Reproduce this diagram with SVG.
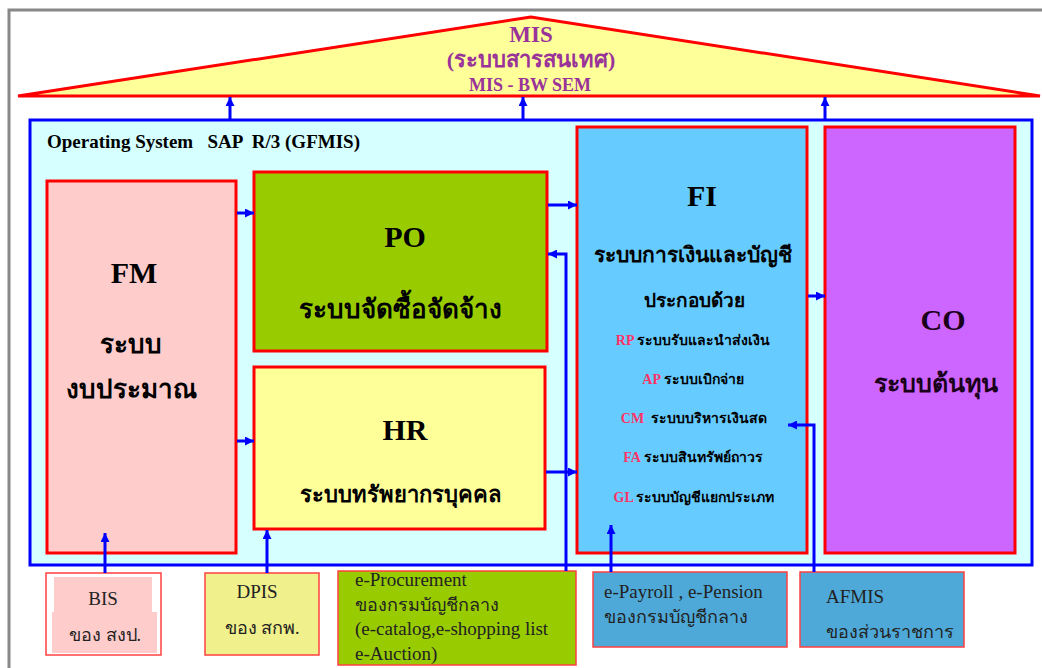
<svg xmlns="http://www.w3.org/2000/svg" width="1042" height="668" viewBox="0 0 1042 668">
<defs>
<marker id="ah" viewBox="0 0 10 10" refX="10" refY="5" markerWidth="10" markerHeight="9" markerUnits="userSpaceOnUse" orient="auto">
<path d="M0,0 L10,5 L0,10 Z" fill="#0000ff"/>
</marker>
<style>
.t{font-family:"Liberation Serif","Times New Roman",serif;}
.b{font-weight:bold;}
.mid{text-anchor:middle;}
.box{stroke:#ff0000;stroke-width:3;}
.sbox{stroke:#ff4040;stroke-width:1.5;}
.con{fill:none;stroke:#0000ff;stroke-width:3;marker-end:url(#ah);}
.code{fill:#ff3366;}
.mis{fill:#993399;}
.small{font-size:19px;fill:#222;}
.th{font-size:18px;}
</style>
</defs>
<rect x="0" y="0" width="1042" height="668" fill="#ffffff"/>
<rect x="9" y="10" width="1060" height="680" fill="none" stroke="#888888" stroke-width="3"/>

<g id="mis">
<polygon points="531,17 18,96 1040,96" fill="#ffff99" stroke="#ff0000" stroke-width="3" stroke-linejoin="miter"/>
<text class="t b mid mis" x="531" y="42" font-size="23">MIS</text>
<text class="t b mid mis" x="531" y="67" font-size="22">(ระบบสารสนเทศ)</text>
<text class="t b mid mis" x="530" y="91" font-size="18">MIS - BW SEM</text>
</g>

<g id="os">
<rect x="30" y="120" width="1002" height="445" fill="#d6ffff" stroke="#0000ff" stroke-width="3"/>
<text class="t b" x="47" y="148" font-size="19" xml:space="preserve">Operating System   SAP  R/3 (GFMIS)</text>
</g>

<g id="fm">
<rect class="box" x="47" y="181" width="189" height="372" fill="#ffcccc"/>
<text class="t b mid" x="134" y="283" font-size="30">FM</text>
<text class="t b mid" x="131" y="353" font-size="26">ระบบ</text>
<text class="t b mid" x="131" y="398" font-size="26">งบประมาณ</text>
</g>

<g id="po">
<rect class="box" x="254" y="172" width="293" height="179" fill="#99cc00"/>
<text class="t b mid" x="405" y="247" font-size="30">PO</text>
<text class="t b mid" x="400" y="318" font-size="26">ระบบจัดซื้อจัดจ้าง</text>
</g>

<g id="hr">
<rect class="box" x="254" y="367" width="291" height="162" fill="#ffff99"/>
<text class="t b mid" x="405" y="440" font-size="30">HR</text>
<text class="t b mid" x="400" y="502" font-size="22">ระบบทรัพยากรบุคคล</text>
</g>

<g id="fi">
<rect class="box" x="577" y="127" width="230" height="426" fill="#66ccff"/>
<text class="t b mid" x="702" y="206" font-size="30">FI</text>
<text class="t b mid" x="693" y="262" font-size="21">ระบบการเงินและบัญชี</text>
<text class="t b mid" x="694" y="307" font-size="19">ประกอบด้วย</text>
<text class="t b mid" x="693" y="345" font-size="14"><tspan class="code">RP</tspan> ระบบรับและนำส่งเงิน</text>
<text class="t b mid" x="693" y="384" font-size="14"><tspan class="code">AP</tspan> ระบบเบิกจ่าย</text>
<text class="t b mid" x="694" y="423" font-size="14" xml:space="preserve"><tspan class="code">CM</tspan>  ระบบบริหารเงินสด</text>
<text class="t b mid" x="693" y="462" font-size="14"><tspan class="code">FA</tspan> ระบบสินทรัพย์ถาวร</text>
<text class="t b mid" x="694" y="502" font-size="14"><tspan class="code">GL</tspan> ระบบบัญชีแยกประเภท</text>
</g>

<g id="co">
<rect class="box" x="825" y="127" width="190" height="426" fill="#cc66ff"/>
<text class="t b mid" x="943" y="330" font-size="30" fill="#1a001a">CO</text>
<text class="t mid" x="936" y="392" font-size="25" fill="#1a001a" font-weight="600">ระบบต้นทุน</text>
</g>

<g id="bis">
<rect class="sbox" x="46" y="573" width="115" height="82" fill="#ffffff"/>
<rect x="54" y="577" width="98" height="36" fill="#ffcccc"/>
<rect x="52" y="612" width="105" height="41" fill="#ffcccc"/>
<text class="t small mid" x="103" y="605">BIS</text>
<text class="t small th mid" x="105" y="641">ของ สงป.</text>
</g>

<g id="dpis">
<rect class="sbox" x="205" y="573" width="114" height="82" fill="#f0f08c"/>
<text class="t small mid" x="257" y="598">DPIS</text>
<text class="t small th mid" x="262" y="634">ของ สกพ.</text>
</g>

<g id="eproc">
<rect class="sbox" x="338" y="571" width="238" height="94" fill="#99cc00"/>
<text class="t small" x="355" y="586">e-Procurement</text>
<text class="t small th" x="355" y="611">ของกรมบัญชีกลาง</text>
<text class="t small" x="355" y="635">(e-catalog,e-shopping list</text>
<text class="t small" x="355" y="660">e-Auction)</text>
</g>

<g id="epayroll">
<rect class="sbox" x="593" y="572" width="194" height="75" fill="#4ea9d8"/>
<text class="t small" x="604" y="598">e-Payroll , e-Pension</text>
<text class="t small th" x="604" y="623">ของกรมบัญชีกลาง</text>
</g>

<g id="afmis">
<rect class="sbox" x="800" y="572" width="164" height="75" fill="#4ea9d8"/>
<text class="t small" x="826" y="603">AFMIS</text>
<text class="t small th" x="826" y="638">ของส่วนราชการ</text>
</g>

<g id="connectors">
<path class="con" d="M230,120 V97"/>
<path class="con" d="M523,120 V97"/>
<path class="con" d="M825,120 V97"/>
<path class="con" d="M237,213 H254"/>
<path class="con" d="M237,441 H254"/>
<path class="con" d="M548,205 H577"/>
<path class="con" d="M546,472 H577"/>
<path class="con" d="M808,296 H825"/>
<path class="con" d="M105,573 V533"/>
<path class="con" d="M267,573 V530"/>
<path class="con" d="M566,571 V254 H548"/>
<path class="con" d="M611,572 V525"/>
<path class="con" d="M814,572 V425 H788"/>
</g>
</svg>
